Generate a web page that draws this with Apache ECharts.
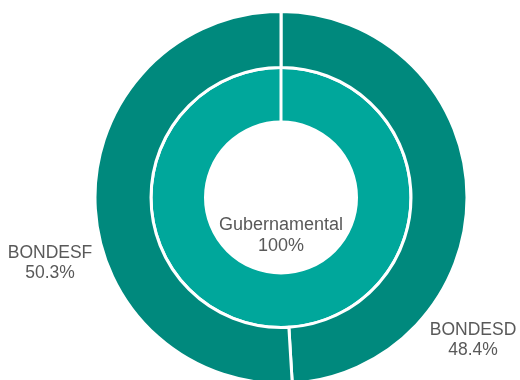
<!DOCTYPE html>
<html>
<head>
<meta charset="utf-8">
<script src="https://cdn.jsdelivr.net/npm/echarts@6/dist/echarts.min.js"></script>
<style>
  html, body { margin: 0; padding: 0; background: #ffffff; }
  #chart { width: 520px; height: 380px; }
</style>
</head>
<body>
<div id="chart"></div>
<script>
// Inner ring: sector total
const innerNames = ['Gubernamental'];
const innerValues = [100];
const innerLabels = ['100%'];

// Outer ring: instruments within the sector
const outerNames = ['BONDESD', 'BONDESF'];
const outerValues = [48.4, 50.3];
const outerLabels = ['48.4%', '50.3%'];

const textColor = '#595959';
const font = '"Liberation Sans", Arial, sans-serif';
const cx = 281, cy = 197.5;
const innerRadius = [75.5, 130];
const outerRadius = [130, 186];

// Where each outer label sits (pixel anchors for the text block centre)
const outerLabelAnchors = {
  BONDESD: [473, 340],
  BONDESF: [50, 263]
};

const chart = echarts.init(document.getElementById('chart'), null, { renderer: 'canvas' });

chart.setOption({
  animation: false,
  // white seam where the full inner ring starts (12 o'clock)
  graphic: [{
    type: 'line',
    z: 10,
    shape: { x1: cx, y1: cy - innerRadius[0] - 1, x2: cx, y2: cy - innerRadius[1] },
    style: { stroke: '#ffffff', lineWidth: 3 },
    silent: true
  }],
  series: [
    {
      type: 'pie',
      center: [cx, cy],
      radius: innerRadius,
      startAngle: 90,
      clockwise: true,
      silent: true,
      itemStyle: { color: '#00a79b', borderColor: '#ffffff', borderWidth: 3 },
      label: {
        position: 'center',
        color: textColor,
        fontFamily: font,
        fontSize: 18,
        lineHeight: 21,
        formatter: p => p.name + '\n' + innerLabels[p.dataIndex]
      },
      labelLine: { show: false },
      labelLayout: { dy: 38 },
      emphasis: { disabled: true },
      data: innerNames.map((n, i) => ({ name: n, value: innerValues[i] }))
    },
    {
      type: 'pie',
      center: [cx, cy],
      radius: outerRadius,
      startAngle: 90,
      clockwise: true,
      silent: true,
      itemStyle: { color: '#00897d', borderColor: '#ffffff', borderWidth: 3 },
      label: {
        position: 'inside',
        color: textColor,
        fontFamily: font,
        fontSize: 17.5,
        lineHeight: 20.5,
        align: 'center',
        overflow: 'none',
        formatter: p => p.name + '\n' + outerLabels[p.dataIndex]
      },
      labelLine: { show: false },
      labelLayout: function (params) {
        const name = outerNames[params.dataIndex];
        const a = outerLabelAnchors[name];
        return {
          x: a[0],
          y: a[1],
          align: 'center',
          verticalAlign: 'middle'
        };
      },
      emphasis: { disabled: true },
      data: outerNames.map((n, i) => ({ name: n, value: outerValues[i] }))
    }
  ]
});
</script>
</body>
</html>
